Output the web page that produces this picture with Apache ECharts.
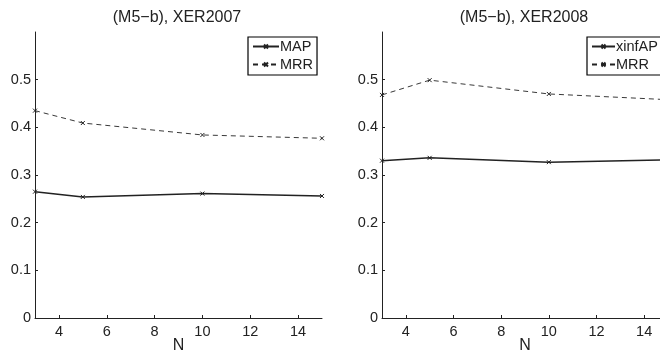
<!DOCTYPE html>
<html><head><meta charset="utf-8">
<script src="https://cdn.jsdelivr.net/npm/echarts@6/dist/echarts.min.js"></script>
<style>html,body{margin:0;padding:0;background:#fff}#c{width:660px;height:352px}</style>
</head><body><div id="c"></div>
<script>
const nValues = [3, 5, 10, 15];
const xTicks = [4, 6, 8, 10, 12, 14];
const yTicks = [0, 0.1, 0.2, 0.3, 0.4, 0.5];
const map2007 = [0.265, 0.254, 0.261, 0.256];
const mrr2007 = [0.435, 0.409, 0.384, 0.377];
const xinfap2008 = [0.330, 0.336, 0.327, 0.332];
const mrr2008 = [0.468, 0.499, 0.470, 0.458];
const titles = ['(M5\u2212b), XER2007', '(M5\u2212b), XER2008'];

const pairs = a => nValues.map((n, i) => [n, a[i]]);
const FONT = '"Liberation Sans", Arial, sans-serif';
const INK = '#222';
const cross = 'path://M0,0L10,10M10,0L0,10';

function xAx(gi) {
  return {
    type: 'value', gridIndex: gi, min: 3, max: 15,
    name: 'N', nameLocation: 'middle', nameGap: 20, nameMoveOverlap: false,
    nameTextStyle: {fontFamily: FONT, fontSize: 16, color: INK},
    axisLine: {lineStyle: {color: INK, width: 1}},
    axisTick: {inside: true, length: 3, customValues: xTicks, lineStyle: {color: INK}},
    axisLabel: {customValues: xTicks, fontFamily: FONT, fontSize: 14.5, color: INK, margin: 6},
    splitLine: {show: false}
  };
}
function yAx(gi) {
  return {
    type: 'value', gridIndex: gi, min: 0, max: 0.6,
    axisLine: {show: true, lineStyle: {color: INK, width: 1}},
    axisTick: {show: true, inside: true, length: 3, customValues: yTicks, lineStyle: {color: INK}},
    axisLabel: {customValues: yTicks, fontFamily: FONT, fontSize: 14.5, color: INK, margin: 4,
      formatter: v => v === 0 ? '0' : v.toFixed(1)},
    splitLine: {show: false}
  };
}
function ser(name, data, gi, dashed) {
  return {
    type: 'line', name: name, xAxisIndex: gi, yAxisIndex: gi, data: pairs(data),
    symbol: cross, symbolSize: 4, showSymbol: true,
    lineStyle: {color: INK, width: dashed ? 0.9 : 1.5, type: dashed ? [5, 4] : 'solid'},
    itemStyle: {color: 'transparent', borderColor: INK, borderWidth: 1},
    animation: false
  };
}
function leg(names, left, w) {
  return {
    data: names, orient: 'vertical', left: left, top: 37,
    itemWidth: w, itemHeight: 5, itemGap: 3, padding: [2, 4, 3, 4],
    borderColor: '#000', borderWidth: 1.2, backgroundColor: '#fff',
    textStyle: {fontFamily: FONT, fontSize: 14.5, lineHeight: 15, color: INK, padding: [0, 0, 0, -4]},
    selectedMode: false
  };
}
const chart = echarts.init(document.getElementById('c'), null, {renderer: 'canvas'});
chart.setOption({
  backgroundColor: '#fff',
  animation: false,
  title: [
    {text: titles[0], left: 177, top: 10, padding: 0, textAlign: 'center', textStyle: {fontFamily: FONT, fontSize: 16, fontWeight: 'normal', color: INK}},
    {text: titles[1], left: 524, top: 10, padding: 0, textAlign: 'center', textStyle: {fontFamily: FONT, fontSize: 16, fontWeight: 'normal', color: INK}}
  ],
  grid: [
    {left: 35, top: 32, width: 287, height: 286, containLabel: false, outerBoundsMode: 'none'},
    {left: 382, top: 32, width: 286, height: 286, containLabel: false, outerBoundsMode: 'none'}
  ],
  xAxis: [xAx(0), xAx(1)],
  yAxis: [yAx(0), yAx(1)],
  legend: [leg(['MAP', 'MRR'], 248, 26), leg(['xinfAP', 'MRR'], 587, 23)],
  series: [
    ser('MAP', map2007, 0, false),
    ser('MRR', mrr2007, 0, true),
    ser('xinfAP', xinfap2008, 1, false),
    ser('MRR', mrr2008, 1, true)
  ]
});
</script></body></html>
